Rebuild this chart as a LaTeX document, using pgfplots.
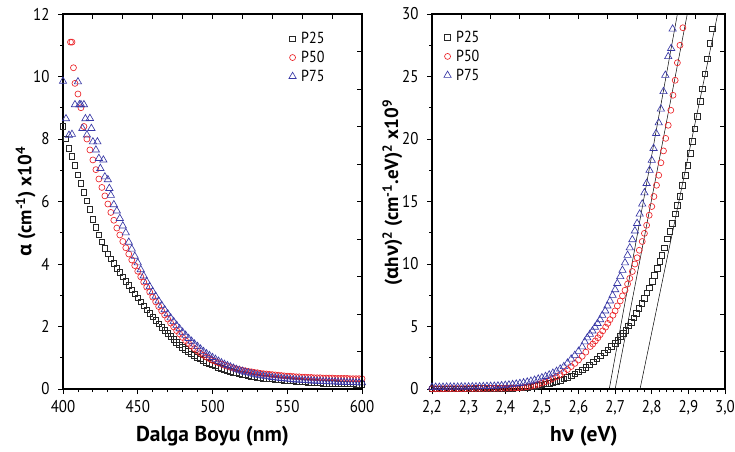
\documentclass[border=0pt]{standalone}
\usepackage{pgfplots}
\pgfplotsset{compat=1.18}
\usepackage{fontspec}
\setmainfont{PT Sans}
\newfontfamily\tickfont{PT Sans}[FakeStretch=0.88]
\newfontfamily\gk{Open Sans}
\definecolor{cblk}{RGB}{40,40,40}
\definecolor{cred}{RGB}{235,35,40}
\definecolor{cblu}{RGB}{55,55,165}

\pgfplotstableread{
x y
400 8.40
402 8.00
404 7.70
406 7.45
408 7.15
410 6.85
412 6.58
414 6.30
416 6.02
418 5.75
420 5.43
422 5.17
424 4.93
426 4.71
428 4.50
430 4.32
432 4.16
434 4.02
436 3.87
438 3.73
440 3.59
442 3.45
444 3.31
446 3.18
448 3.05
450 2.92
452 2.79
454 2.66
456 2.54
458 2.42
460 2.31
462 2.20
464 2.09
466 1.98
468 1.88
470 1.78
472 1.68
474 1.59
476 1.50
478 1.42
480 1.34
482 1.27
484 1.20
486 1.13
488 1.07
490 1.01
492 0.96
494 0.91
496 0.86
498 0.82
500 0.78
502 0.74
504 0.70
506 0.67
508 0.63
510 0.60
512 0.57
514 0.54
516 0.52
518 0.49
520 0.47
522 0.45
524 0.43
526 0.41
528 0.39
530 0.38
532 0.36
534 0.35
536 0.34
538 0.33
540 0.32
542 0.31
544 0.30
546 0.29
548 0.28
550 0.27
552 0.26
554 0.26
556 0.25
558 0.24
560 0.23
562 0.23
564 0.22
566 0.22
568 0.21
570 0.20
572 0.20
574 0.19
576 0.19
578 0.19
580 0.18
582 0.18
584 0.17
586 0.17
588 0.17
590 0.16
592 0.16
594 0.16
596 0.15
598 0.15
600 0.15
}\aPtwofive

\pgfplotstableread{
x y
405 11.10
406 11.10
407 10.28
408 9.78
410 9.44
412 9.00
414 8.40
416 8.00
418 7.65
420 7.33
422 7.02
424 6.72
426 6.45
428 6.18
430 5.92
432 5.65
434 5.40
436 5.15
438 4.93
440 4.72
442 4.52
444 4.32
446 4.13
448 3.95
450 3.77
452 3.59
454 3.42
456 3.26
458 3.10
460 2.94
462 2.79
464 2.64
466 2.50
468 2.37
470 2.24
472 2.11
474 1.99
476 1.87
478 1.76
480 1.65
482 1.55
484 1.46
486 1.37
488 1.29
490 1.21
492 1.14
494 1.08
496 1.02
498 0.97
500 0.92
502 0.88
504 0.84
506 0.80
508 0.76
510 0.73
512 0.70
514 0.67
516 0.64
518 0.62
520 0.60
522 0.58
524 0.56
526 0.55
528 0.53
530 0.52
532 0.50
534 0.49
536 0.48
538 0.47
540 0.46
542 0.45
544 0.44
546 0.43
548 0.42
550 0.41
552 0.41
554 0.40
556 0.39
558 0.39
560 0.38
562 0.38
564 0.37
566 0.37
568 0.36
570 0.36
572 0.36
574 0.35
576 0.35
578 0.35
580 0.35
582 0.34
584 0.34
586 0.34
588 0.34
590 0.34
592 0.33
594 0.33
596 0.33
598 0.33
600 0.33
}\aPfivezero

\pgfplotstableread{
x y
400 9.85
402 8.65
404 8.12
406 8.15
408 9.10
410 9.83
411 9.10
412 9.10
413 8.34
414 9.10
415 8.65
416 8.13
418 8.66
419 8.34
420 7.91
422 7.65
423 7.91
424 7.38
425 7.06
427 7.33
428 6.79
430 6.70
431 6.42
432 6.20
434 5.90
436 5.70
438 5.46
440 5.22
442 5.00
444 4.70
446 4.48
448 4.25
450 4.04
452 3.82
454 3.62
456 3.44
458 3.28
460 3.12
462 2.97
464 2.82
466 2.68
468 2.54
470 2.41
472 2.28
474 2.16
476 2.04
478 1.93
480 1.82
482 1.72
484 1.62
486 1.53
488 1.44
490 1.36
492 1.28
494 1.20
496 1.13
498 1.07
500 1.01
502 0.95
504 0.89
506 0.84
508 0.79
510 0.75
512 0.71
514 0.67
516 0.63
518 0.60
520 0.57
522 0.54
524 0.52
526 0.49
528 0.47
530 0.45
532 0.43
534 0.42
536 0.40
538 0.39
540 0.37
542 0.36
544 0.35
546 0.34
548 0.33
550 0.32
552 0.31
554 0.30
556 0.29
558 0.29
560 0.28
562 0.27
564 0.27
566 0.26
568 0.26
570 0.25
572 0.25
574 0.24
576 0.24
578 0.23
580 0.23
582 0.23
584 0.22
586 0.22
588 0.22
590 0.21
592 0.21
594 0.21
596 0.20
598 0.20
600 0.20
}\aPsevenfive

\pgfplotstableread{
x y
2.20 0.02
2.21 0.02
2.22 0.02
2.23 0.02
2.24 0.02
2.25 0.03
2.26 0.03
2.27 0.03
2.28 0.03
2.29 0.03
2.30 0.03
2.31 0.03
2.32 0.04
2.33 0.04
2.34 0.04
2.35 0.04
2.36 0.04
2.37 0.05
2.38 0.05
2.39 0.05
2.40 0.06
2.41 0.06
2.42 0.07
2.43 0.08
2.44 0.09
2.45 0.11
2.46 0.14
2.47 0.18
2.48 0.22
2.49 0.28
2.50 0.34
2.51 0.40
2.52 0.47
2.53 0.54
2.54 0.62
2.55 0.71
2.56 0.81
2.57 0.92
2.58 1.05
2.59 1.20
2.60 1.36
2.61 1.54
2.62 1.74
2.63 1.95
2.64 2.17
2.65 2.40
2.66 2.64
2.67 2.90
2.68 3.15
2.69 3.40
2.700 3.65
2.707 3.90
2.715 4.20
2.722 4.45
2.729 4.70
2.736 5.05
2.744 5.35
2.751 5.70
2.758 6.05
2.765 6.45
2.773 6.85
2.779 7.25
2.786 7.70
2.794 8.10
2.801 8.60
2.807 9.10
2.815 9.65
2.822 10.2
2.828 10.7
2.835 11.3
2.843 12.0
2.849 12.6
2.856 13.25
2.864 14.0
2.870 14.7
2.877 15.4
2.884 16.3
2.891 17.1
2.898 17.9
2.905 18.85
2.911 19.8
2.918 20.8
2.925 21.8
2.932 23.0
2.938 24.0
2.945 25.2
2.952 26.4
2.959 27.65
2.966 28.8
}\bPtwofive

\pgfplotstableread{
x y
2.20 0.02
2.21 0.02
2.22 0.02
2.23 0.02
2.24 0.03
2.25 0.03
2.26 0.03
2.27 0.03
2.28 0.03
2.29 0.03
2.30 0.04
2.31 0.04
2.32 0.04
2.33 0.04
2.34 0.04
2.35 0.05
2.36 0.05
2.37 0.05
2.38 0.05
2.39 0.06
2.40 0.06
2.41 0.07
2.42 0.08
2.43 0.09
2.44 0.11
2.45 0.14
2.46 0.18
2.47 0.23
2.48 0.29
2.49 0.38
2.50 0.48
2.51 0.58
2.52 0.70
2.53 0.84
2.54 0.98
2.55 1.15
2.56 1.35
2.57 1.56
2.58 1.80
2.59 2.05
2.60 2.32
2.61 2.62
2.62 2.95
2.632 3.40
2.639 3.60
2.646 3.85
2.653 4.10
2.659 4.35
2.666 4.65
2.674 4.95
2.680 5.25
2.686 5.55
2.694 5.90
2.700 6.25
2.706 6.65
2.714 7.05
2.720 7.45
2.727 7.90
2.734 8.40
2.740 8.85
2.747 9.40
2.754 10.0
2.760 10.5
2.766 11.1
2.774 11.8
2.780 12.45
2.786 13.1
2.793 13.9
2.800 14.6
2.806 15.4
2.813 16.3
2.819 17.1
2.825 18.1
2.832 19.05
2.838 20.05
2.845 21.1
2.852 22.3
2.858 23.5
2.864 24.7
2.870 26.1
2.877 27.5
2.885 28.9
}\bPfivezero

\pgfplotstableread{
x y
2.20 0.15
2.21 0.15
2.22 0.15
2.23 0.15
2.24 0.16
2.25 0.16
2.26 0.16
2.27 0.16
2.28 0.17
2.29 0.17
2.30 0.17
2.31 0.18
2.32 0.18
2.33 0.19
2.34 0.20
2.35 0.21
2.36 0.22
2.37 0.23
2.38 0.25
2.39 0.27
2.40 0.30
2.41 0.33
2.42 0.36
2.43 0.40
2.44 0.45
2.45 0.50
2.46 0.56
2.47 0.63
2.48 0.71
2.49 0.80
2.50 0.90
2.51 1.01
2.52 1.13
2.53 1.27
2.54 1.42
2.55 1.60
2.56 1.80
2.57 2.08
2.58 2.40
2.59 2.70
2.60 3.02
2.61 3.38
2.617 3.78
2.624 4.10
2.631 4.38
2.638 4.65
2.645 4.95
2.652 5.25
2.659 5.55
2.665 5.90
2.673 6.25
2.679 6.65
2.686 7.05
2.693 7.50
2.700 7.95
2.706 8.45
2.714 9.00
2.720 9.50
2.727 10.1
2.734 10.7
2.740 11.3
2.747 11.95
2.754 12.65
2.760 13.25
2.767 14.0
2.774 14.8
2.780 15.7
2.786 16.45
2.794 17.5
2.800 18.3
2.805 19.25
2.812 20.45
2.819 21.3
2.825 22.4
2.832 23.8
2.837 25.1
2.845 26.6
2.853 27.25
2.857 28.8
}\bPsevenfive

\pgfplotsset{
  mainax/.style={
    scale only axis, clip=false,
    axis line style={line width=1.2pt},
    every tick/.style={black, line width=0.9pt},
    tick align=outside, xtick pos=bottom, ytick pos=left,
    major tick length=5pt, minor tick length=3pt,
    tick label style={font=\tickfont\fontsize{17}{17}\selectfont},
    xticklabel style={yshift=-3pt},
    yticklabel style={xshift=-5pt},
    /pgf/number format/assume math mode=true,
    xlabel style={font=\bfseries\fontsize{21.5}{23}\selectfont},
    ylabel style={font=\bfseries\fontsize{19}{21}\selectfont},
    legend style={draw=none, fill=none, inner sep=0pt,
      font=\tickfont\fontsize{16}{16}\selectfont, row sep=6pt,
      nodes={inner xsep=5pt, inner ysep=0pt}},
    legend cell align=left,
    legend image code/.code={\draw[mark repeat=2,mark phase=2,##1] plot coordinates {(0cm,0cm)(0.15cm,0cm)(0.3cm,0cm)};},
  },
  mirror/.style={
    scale only axis, xmin=0, xmax=10, ymin=0, ymax=10,
    axis x line*=top, axis y line*=right,
    xtick={1,...,9}, ytick={1,...,9}, xticklabels={}, yticklabels={},
    tick align=inside, major tick length=5pt,
    every tick/.style={black, line width=0.9pt},
    axis line style={line width=1.2pt},
  },
  s25/.style={only marks, mark=square, mark size=2.8pt, color=cblk, mark options={line width=0.65pt, fill=none}},
  s50/.style={only marks, mark=o, mark size=3.0pt, color=cred, mark options={line width=0.65pt, fill=none}},
  s75/.style={only marks, mark=triangle, mark size=4.2pt, color=cblu, mark options={line width=0.65pt, fill=none}},
}

\begin{document}
\begin{tikzpicture}
\path[use as bounding box] (0,0) rectangle (735pt,451pt);

\begin{axis}[mainax, at={(63pt,62pt)}, anchor=south west, width=299pt, height=375pt,
  xmin=400, xmax=600, ymin=0, ymax=12,
  xtick={400,450,...,600}, minor x tick num=4,
  ytick={0,2,...,12}, minor y tick num=1,
  xlabel={Dalga Boyu (nm)},
  ylabel={{\gk α} (cm\textsuperscript{-1}) x10\textsuperscript{4}},
  xlabel style={at={(axis description cs:0.5,-0.125)}, anchor=center},
  ylabel style={at={(axis description cs:-0.125,0.5)}, anchor=center},
  legend style={at={(0.755,0.952)}, anchor=north west}]
\addplot[s25] table {\aPtwofive};
\addplot[s50] table {\aPfivezero};
\addplot[s75] table {\aPsevenfive};
\legend{P25,P50,P75}
\end{axis}
\begin{axis}[mirror, at={(63pt,62pt)}, anchor=south west, width=299pt, height=375pt]
\end{axis}

\begin{axis}[mainax, at={(432pt,62pt)}, anchor=south west, width=293pt, height=375pt,
  xmin=2.2, xmax=3.0, ymin=0, ymax=30,
  xtick={2.2,2.3,2.4,2.5,2.6,2.7,2.8,2.9,3.0}, minor x tick num=4,
  ytick={0,5,...,30}, minor y tick num=1,
  xticklabel style={/pgf/number format/.cd, fixed, fixed zerofill, precision=1, use comma},
  xlabel={h{\gk ν} (eV)},
  ylabel={({\gk α}h{\gk ν})\textsuperscript{2} (cm\textsuperscript{-1}.eV)\textsuperscript{2} x10\textsuperscript{9}},
  xlabel style={at={(axis description cs:0.518,-0.125)}, anchor=center},
  ylabel style={at={(axis description cs:-0.135,0.523)}, anchor=center},
  legend style={at={(0.04,0.955)}, anchor=north west}]
\addplot[s25] table {\bPtwofive};
\addplot[s50] table {\bPfivezero};
\addplot[s75] table {\bPsevenfive};
\legend{P25,P50,P75}
\addplot[black, line width=0.5pt, forget plot] coordinates {(2.684,0) (2.870,30)};
\addplot[black, line width=0.5pt, forget plot] coordinates {(2.700,0) (2.897,30)};
\addplot[black, line width=0.5pt, forget plot] coordinates {(2.768,0) (2.980,30)};
\end{axis}
\begin{axis}[mirror, at={(432pt,62pt)}, anchor=south west, width=293pt, height=375pt]
\end{axis}
\end{tikzpicture}
\end{document}
